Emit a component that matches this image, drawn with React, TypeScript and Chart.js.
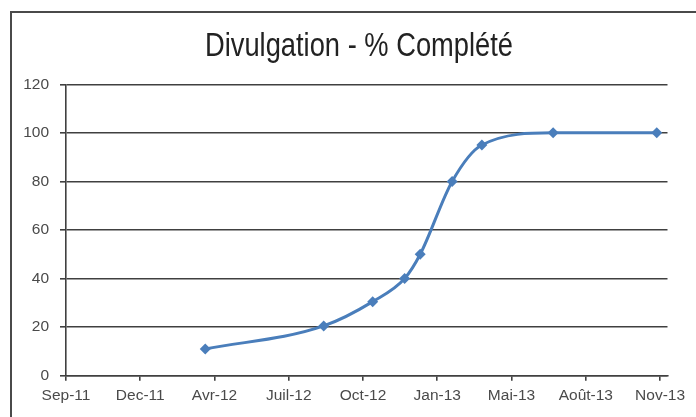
import React, { useEffect, useRef } from "react";
import { Chart, registerables } from "chart.js";

Chart.register(...registerables);

const chartTitle = "Divulgation - % Complété";
const xTickLabels = ["Sep-11", "Dec-11", "Avr-12", "Juil-12", "Oct-12", "Jan-13", "Mai-13", "Août-13", "Nov-13"];
// positions of data points along the date axis, in units of axis tick intervals
const pointPositions = [1.875, 3.47, 4.13, 4.56, 4.77, 5.2, 5.6, 6.56, 7.955];
const completionValues = [11, 20.5, 30.5, 40, 50, 80, 95, 100, 100];
const yTickValues = [0, 20, 40, 60, 80, 100, 120];

const borderPlugin = {
  id: "outerBorder",
  beforeDraw(chart: any) {
    const ctx = chart.ctx;
    ctx.save();
    ctx.fillStyle = "#ffffff";
    ctx.fillRect(0, 0, chart.width, chart.height);
    ctx.strokeStyle = "#4a4a4a";
    ctx.lineWidth = 2;
    ctx.strokeRect(11, 12, 720, 440);
    ctx.restore();
  },
};

// narrow title (the reference uses a condensed face): drawn as text, squeezed horizontally
const narrowTitlePlugin = {
  id: "narrowTitle",
  afterDraw(chart: any) {
    const ctx = chart.ctx;
    ctx.save();
    ctx.font = "normal 33px 'Liberation Sans', Arial, sans-serif";
    ctx.fillStyle = "#222222";
    ctx.textBaseline = "middle";
    ctx.textAlign = "center";
    const w = ctx.measureText(chartTitle).width;
    const sx = 308 / w;
    ctx.translate(359, 47);
    ctx.scale(sx, 1);
    ctx.fillText(chartTitle, 0, 0);
    ctx.restore();
  },
};

export default function App() {
  const canvasRef = useRef<HTMLCanvasElement | null>(null);

  useEffect(() => {
    document.body.style.margin = "0";
    const canvas = canvasRef.current;
    if (!canvas) return;
    const gridColor = "#404040";
    const tickFont = { family: "'Liberation Sans', Arial, sans-serif", size: 15.5 };
    const chart = new Chart(canvas, {
      type: "line",
      data: {
        datasets: [
          {
            label: "% Complété",
            data: pointPositions.map((x, i) => ({ x, y: completionValues[i] })),
            borderColor: "#4a7ebb",
            backgroundColor: "#4a7ebb",
            borderWidth: 3,
            pointStyle: "rectRot",
            pointRadius: 5.5,
            pointBorderWidth: 0,
            cubicInterpolationMode: "monotone",
            fill: false,
          },
        ],
      },
      options: {
        animation: false,
        responsive: true,
        maintainAspectRatio: false,
        layout: { padding: { left: 0, right: 28.5, top: 84.3, bottom: 5.7 } },
        plugins: {
          legend: { display: false },
          tooltip: { enabled: false },
          title: { display: false, text: chartTitle },
        },
        scales: {
          x: {
            type: "linear",
            min: 0,
            max: 8.1,
            afterBuildTicks: (scale: any) => {
              scale.ticks = xTickLabels.map((_, i) => ({ value: i }));
            },
            ticks: {
              autoSkip: false,
              maxRotation: 0,
              padding: 6,
              color: "#4a4a4a",
              font: tickFont,
              callback: (v: any) => xTickLabels[Math.round(Number(v))] ?? "",
            },
            grid: { display: true, drawOnChartArea: false, drawTicks: true, tickLength: 5, color: gridColor, lineWidth: 1.6 },
            border: { display: true, color: gridColor, width: 1.6 },
          },
          y: {
            min: 0,
            max: 120,
            afterBuildTicks: (scale: any) => {
              scale.ticks = yTickValues.map((v) => ({ value: v }));
            },
            afterFit: (scale: any) => {
              scale.width = 66;
            },
            ticks: {
              padding: 11,
              color: "#4a4a4a",
              font: tickFont,
            },
            grid: { display: true, drawTicks: true, tickLength: 6, color: gridColor, lineWidth: 1.6 },
            border: { display: true, color: gridColor, width: 1.6 },
          },
        },
      },
      plugins: [borderPlugin, narrowTitlePlugin],
    } as any);
    return () => chart.destroy();
  }, []);

  return (
    <div style={{ width: 696, height: 417, position: "relative" }}>
      <canvas ref={canvasRef} />
    </div>
  );
}
